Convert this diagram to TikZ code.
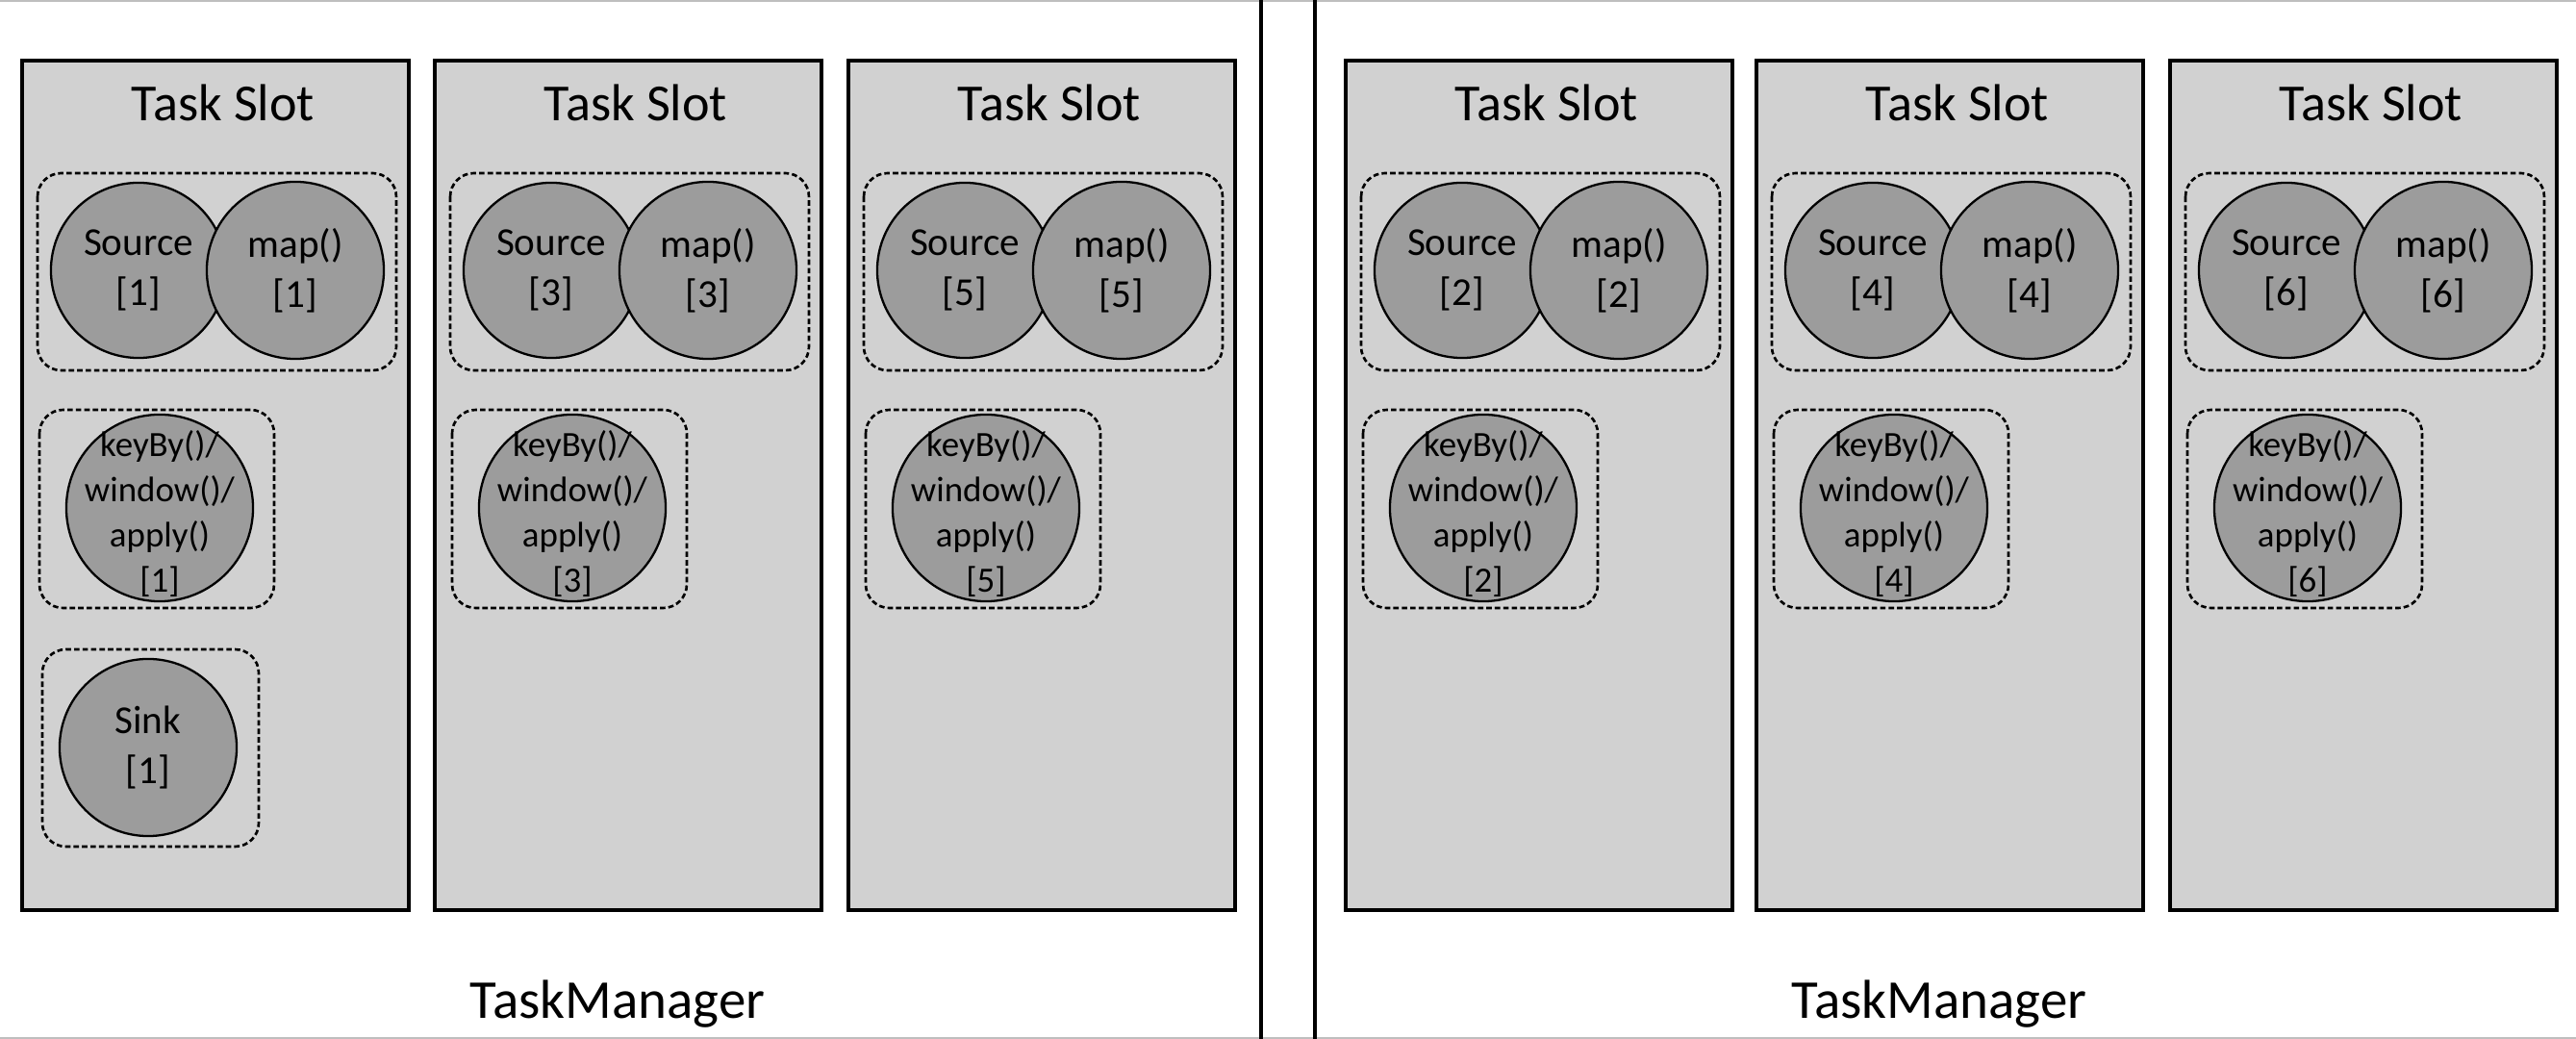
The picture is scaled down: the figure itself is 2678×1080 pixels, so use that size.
\documentclass[tikz,border=0pt]{standalone}
\usepackage{fontspec}
\setmainfont{Carlito}
\definecolor{slotgray}{RGB}{209,209,209}
\definecolor{taskgray}{RGB}{156,156,156}
\definecolor{framegray}{RGB}{190,190,190}
\tikzset{
  slotbox/.style={draw=black, fill=slotgray, line width=0.9pt},
  chainbox/.style={draw=black, line width=0.75pt, dash pattern=on 1.6pt off 0.9pt, rounded corners=7pt},
  task/.style={circle, draw=black, fill=taskgray, line width=0.65pt, inner sep=0pt, align=center,
    font=\fontsize{11.7}{14.8}\selectfont},
  wintext/.style={align=center, inner sep=0pt, font=\fontsize{10.5}{13.3}\selectfont},
  slotlabel/.style={anchor=base, inner sep=0pt, font=\fontsize{15.4}{18}\selectfont},
  tmlabel/.style={anchor=base, inner sep=0pt, font=\fontsize{16.2}{19}\selectfont}
}
\begin{document}
\begin{tikzpicture}[x=0.01cm, y=-0.01cm]
  \useasboundingbox (0,0) rectangle (2678,1080);
  % frame and the two task managers
  \draw[framegray, line width=0.5pt] (0,1) -- (2678,1);
  \draw[framegray, line width=0.5pt] (0,1079) -- (2678,1079);
  \draw[line width=0.9pt] (1311,0) -- (1311,1080);
  \draw[line width=0.9pt] (1367,0) -- (1367,1080);
  \node[tmlabel] (tm1) at (642,1059) {TaskManager};
  \node[tmlabel] (tm2) at (2016,1059) {TaskManager};
  % slots
  \foreach \x/\n in {23/1, 452/3, 882/5, 1399/2, 1826/4, 2256/6} {
    \draw[slotbox] (\x,63) rectangle ++(402,883);
    \node[slotlabel] (slot\n) at (\x+209,126) {Task Slot};
    \draw[chainbox] (\x+16,180) rectangle ++(373,205);
    \node[task, minimum size=1.82cm] (src\n) at (\x+121,281) {Source\\{}[\n]};
    \node[task, minimum size=1.84cm] (map\n) at (\x+284,281) {map()\\{}[\n]};
    \draw[chainbox] (\x+18,426) rectangle ++(244,206);
    \node[task, minimum size=1.94cm] (win\n) at (\x+143,528) {};
    \node[wintext, yshift=-0.06cm] (wintxt\n) at (win\n) {keyBy()/\\window()/\\apply()\\{}[\n]};
  }
  % sink only in the first slot
  \draw[chainbox] (44,675) rectangle (269,880);
  \node[task, minimum size=1.84cm] (sink1) at (154,777) {Sink\\{}[1]};
\end{tikzpicture}
\end{document}
